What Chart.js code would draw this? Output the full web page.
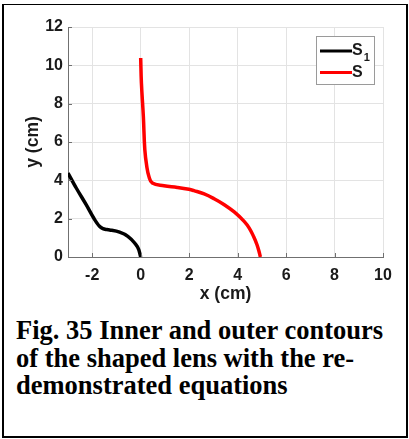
<!DOCTYPE html>
<html>
<head>
<meta charset="utf-8">
<script src="https://cdn.jsdelivr.net/npm/chart.js@4"></script>
<style>
  html, body { margin: 0; padding: 0; background: #fff; }
  body { width: 409px; height: 439px; position: relative; overflow: hidden; }
  #frame {
    position: absolute; left: 2px; top: 4px; width: 406px; height: 434px;
    box-sizing: border-box;
    border-left: 2px solid #000; border-right: 2px solid #000;
    border-bottom: 2px solid #000; border-top: 1px solid #000;
  }
  #chart { position: absolute; left: 0; top: 0; }
  #caption {
    position: absolute; left: 16px; top: 317px;
    font-family: "Liberation Serif", "Times New Roman", serif;
    font-weight: bold; font-size: 26.5px; line-height: 27.5px;
    color: #000; white-space: nowrap;
  }
</style>
</head>
<body>
<div id="frame"></div>
<canvas id="chart" width="409" height="310"></canvas>
<div id="caption">Fig. 35 Inner and outer contours<br>of the shaped lens with the re-<br>demonstrated equations</div>
<script>
// inner contour S1
const s1X = [-3, -2.66, -2.25, -1.9, -1.7, -1.56, -1.4, -1.28, -0.87, -0.53, -0.25, -0.08, -0.02, 0];
const s1Y = [4.38, 3.6, 2.73, 1.95, 1.6, 1.48, 1.43, 1.41, 1.3, 1.08, 0.73, 0.38, 0.1, 0];

// outer contour S
const sX = [0, 0.03, 0.11, 0.17, 0.25, 0.34, 0.48, 0.96, 1.51, 1.99, 2.2, 2.62, 3.03, 3.45, 3.86, 4.27, 4.48, 4.66, 4.8, 4.9, 4.94];
const sY = [10.38, 9.07, 7.33, 5.6, 4.73, 4.2, 3.86, 3.72, 3.63, 3.53, 3.46, 3.29, 3.04, 2.73, 2.35, 1.86, 1.51, 1.07, 0.64, 0.21, 0];

const xTicks = [-2, 0, 2, 4, 6, 8, 10];
const yTicks = [0, 2, 4, 6, 8, 10, 12];

const seriesNames = ['S', 'S'];
const seriesSubs = ['1', ''];
const seriesColors = ['#000000', '#ff0000'];

const axisColor = '#707070';
const tickFont = { family: 'Liberation Sans, Arial, sans-serif', weight: 'bold', size: 16 };
const titleFont = { family: 'Liberation Sans, Arial, sans-serif', weight: 'bold', size: 17.5 };

function toPoints(xs, ys) {
    return xs.map((v, i) => ({ x: v, y: ys[i] }));
}

// MATLAB style ticks pointing into the plot
const inwardTicks = {
    id: 'inwardTicks',
    afterDraw(chart) {
        const { ctx, chartArea: a, scales: { x, y } } = chart;
        ctx.save();
        ctx.strokeStyle = axisColor;
        ctx.lineWidth = 1;
        ctx.beginPath();
        xTicks.forEach(v => {
            const px = Math.round(x.getPixelForValue(v)) + 0.5;
            ctx.moveTo(px, a.bottom);
            ctx.lineTo(px, a.bottom - 4);
        });
        yTicks.forEach(v => {
            const py = Math.round(y.getPixelForValue(v)) + 0.5;
            ctx.moveTo(a.left, py);
            ctx.lineTo(a.left + 4, py);
        });
        ctx.stroke();
        ctx.restore();
    }
};

// legend box in the top right corner (S with subscript 1)
const boxLegend = {
    id: 'boxLegend',
    afterDraw(chart) {
        const { ctx, chartArea: a } = chart;
        const left = a.right - 67, top = a.top + 9, w = 58, h = 48;
        ctx.save();
        ctx.fillStyle = '#fff';
        ctx.fillRect(left, top, w, h);
        ctx.strokeStyle = '#9a9a9a';
        ctx.lineWidth = 1;
        ctx.strokeRect(left + 0.5, top + 0.5, w, h);
        chart.data.datasets.forEach((ds, i) => {
            const yy = top + 15 + i * 21.5;
            ctx.strokeStyle = ds.borderColor;
            ctx.lineWidth = 3;
            ctx.beginPath();
            ctx.moveTo(left + 4, yy);
            ctx.lineTo(left + 36, yy);
            ctx.stroke();
            ctx.fillStyle = '#1a1a1a';
            ctx.textBaseline = 'middle';
            ctx.textAlign = 'left';
            ctx.font = 'bold 16px Liberation Sans, Arial, sans-serif';
            ctx.fillText(seriesNames[i], left + 36, yy);
            if (seriesSubs[i]) {
                const tw = ctx.measureText(seriesNames[i]).width;
                ctx.font = 'bold 11px Liberation Sans, Arial, sans-serif';
                ctx.fillText(seriesSubs[i], left + 37 + tw, yy + 7);
            }
        });
        ctx.restore();
    }
};

new Chart(document.getElementById('chart'), {
    type: 'scatter',
    data: {
        datasets: [{
            label: 'S1',
            data: toPoints(s1X, s1Y),
            showLine: true,
            borderColor: seriesColors[0],
            borderWidth: 3.5,
            pointRadius: 0,
            cubicInterpolationMode: 'monotone',
            fill: false
        }, {
            label: 'S',
            data: toPoints(sX, sY),
            showLine: true,
            borderColor: seriesColors[1],
            borderWidth: 3.5,
            pointRadius: 0,
            tension: 0.4,
            fill: false
        }]
    },
    options: {
        responsive: false,
        animation: false,
        devicePixelRatio: 1,
        layout: { padding: { left: 0, top: 27, right: 26, bottom: 0 } },
        plugins: {
            legend: { display: false },
            tooltip: { enabled: false }
        },
        scales: {
            x: {
                type: 'linear',
                min: -3,
                max: 10,
                afterBuildTicks: s => { s.ticks = xTicks.map(v => ({ value: v })); },
                afterFit: s => { s.height = 53; },
                grid: { color: '#e3e3e3', drawTicks: false },
                border: { color: axisColor },
                ticks: { padding: 9, color: '#1a1a1a', font: tickFont },
                title: { display: true, text: 'x (cm)', color: '#1a1a1a', font: titleFont, padding: { top: 0, bottom: 5 } }
            },
            y: {
                type: 'linear',
                min: 0,
                max: 12,
                afterBuildTicks: s => { s.ticks = yTicks.map(v => ({ value: v })); },
                afterFit: s => { s.width = 68; },
                grid: { color: '#e3e3e3', drawTicks: false },
                border: { color: axisColor },
                ticks: { padding: 5, color: '#1a1a1a', font: tickFont },
                title: { display: true, text: 'y (cm)', color: '#1a1a1a', font: titleFont, padding: { top: 23, bottom: 0 } }
            }
        }
    },
    plugins: [inwardTicks, boxLegend]
});
</script>
</body>
</html>
